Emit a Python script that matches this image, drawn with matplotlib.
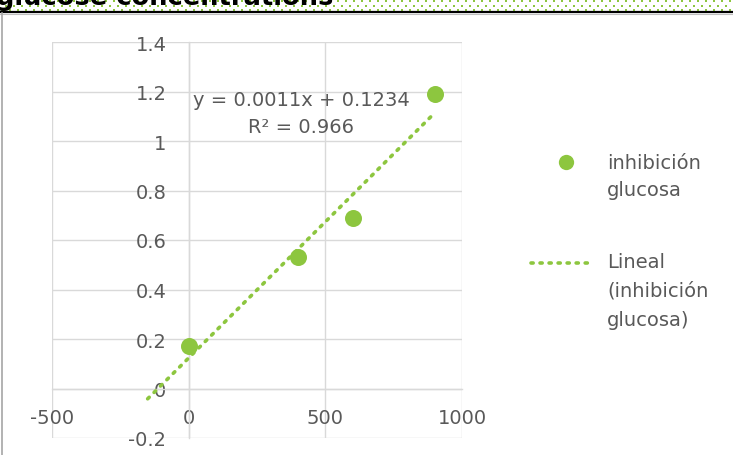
import numpy as np
import matplotlib
matplotlib.use("Agg")
import matplotlib.pyplot as plt
from matplotlib.lines import Line2D

plt.rcParams['font.family'] = ['DejaVu Sans']
plt.rcParams['axes.unicode_minus'] = False

# Glucose inhibition measurements
concentration = [0, 400, 600, 900]
inhibition = [0.17, 0.53, 0.69, 1.19]

# Linear trend reported for the series
trend_slope = 0.0011
trend_intercept = 0.1234
trend_r2 = 0.966
trend_start = -150

x_ticks = [-500, 0, 500, 1000]
y_ticks = [-0.2, 0, 0.2, 0.4, 0.6, 0.8, 1.0, 1.2, 1.4]
y_tick_labels = ['-0.2', '0', '0.2', '0.4', '0.6', '0.8', '1', '1.2', '1.4']

series_label = 'inhibición\nglucosa'
trend_label = 'Lineal\n(inhibición\nglucosa)'
title = 'glucose concentrations'

GREEN = '#8DC63F'
TEXT = '#595959'
GRID = '#D9D9D9'

W, H = 733, 456
fig = plt.figure(figsize=(W / 100, H / 100), dpi=100)

# decorative dotted band and rule across the top
band = fig.add_axes([0, 0, 1, 1], zorder=0)
band.set_xlim(0, W)
band.set_ylim(H, 0)
band.axis('off')
for row, yy in enumerate([2.0, 6.5, 11.0]):
    offs = 0 if row % 2 == 0 else 4
    xs = np.arange(offs + 2, W, 8)
    band.scatter(xs, np.full_like(xs, yy, dtype=float), s=2.0, color=GREEN,
                 marker='s', linewidths=0)
band.plot([0, W], [13.0, 13.0], color='black', lw=1.6)
band.plot([0, W], [14.6, 14.6], color='#BFBFBF', lw=0.8)
band.plot([1.5, 1.5], [14, H], color='#A6A6A6', lw=1.2)
fig.text(-4 / W, 1 - 5 / H, title, fontsize=18.5, fontweight='bold',
         color='black', ha='left', va='baseline', zorder=1)

ax = fig.add_axes([52 / W, 1 - 439 / H, (462 - 52) / W, (439 - 43) / H], zorder=2)
ax.patch.set_alpha(0)
ax.set_xlim(-500, 1000)
ax.set_ylim(-0.2, 1.4)
ax.set_xticks(x_ticks)
ax.set_xticklabels([str(v) for v in x_ticks])
ax.set_yticks(y_ticks)
ax.set_yticklabels(y_tick_labels)
ax.grid(True, color=GRID, lw=1.0)
ax.set_axisbelow(True)
for side in ['top', 'right']:
    ax.spines[side].set_visible(False)
ax.spines['left'].set_position(('data', 0))
ax.spines['bottom'].set_position(('data', 0))
for side in ['left', 'bottom']:
    ax.spines[side].set_color(GRID)
    ax.spines[side].set_linewidth(1.0)
ax.tick_params(axis='both', length=0, labelsize=14, labelcolor=TEXT)
ax.tick_params(axis='y', pad=16)
ax.tick_params(axis='x', pad=14)

# linear trend line, extended backwards from the first measurement
xfit = np.array([trend_start, max(concentration)])
ax.plot(xfit, trend_slope * xfit + trend_intercept, color=GREEN, lw=2.6,
        linestyle=(0, (0.6, 1.9)), dash_capstyle='round', zorder=3,
        clip_on=False)
ax.scatter(concentration, inhibition, s=150, color=GREEN, zorder=4,
           linewidths=0, clip_on=False)

fig.text(301 / W, 1 - 114 / H,
         f'y = {trend_slope:.4f}x + {trend_intercept:.4f}\nR² = {trend_r2:.3f}',
         ha='center', va='center', fontsize=14, color=TEXT,
         linespacing=1.5, zorder=5)

# legend entries
fig.add_artist(Line2D([566 / W], [1 - 163 / H], marker='o', markersize=11,
                      color=GREEN, markeredgewidth=0, linestyle='none',
                      transform=fig.transFigure))
fig.add_artist(Line2D([531 / W, 594 / W], [1 - 264 / H, 1 - 264 / H],
                      color=GREEN, lw=2.6, linestyle=(0, (0.6, 1.9)),
                      dash_capstyle='round', transform=fig.transFigure))
fig.text(607 / W, 1 - 154 / H, series_label, ha='left', va='top',
         fontsize=14, color=TEXT, linespacing=1.55)
fig.text(607 / W, 1 - 253 / H, trend_label, ha='left', va='top',
         fontsize=14, color=TEXT, linespacing=1.65)

fig.savefig('out.png', dpi=100)
